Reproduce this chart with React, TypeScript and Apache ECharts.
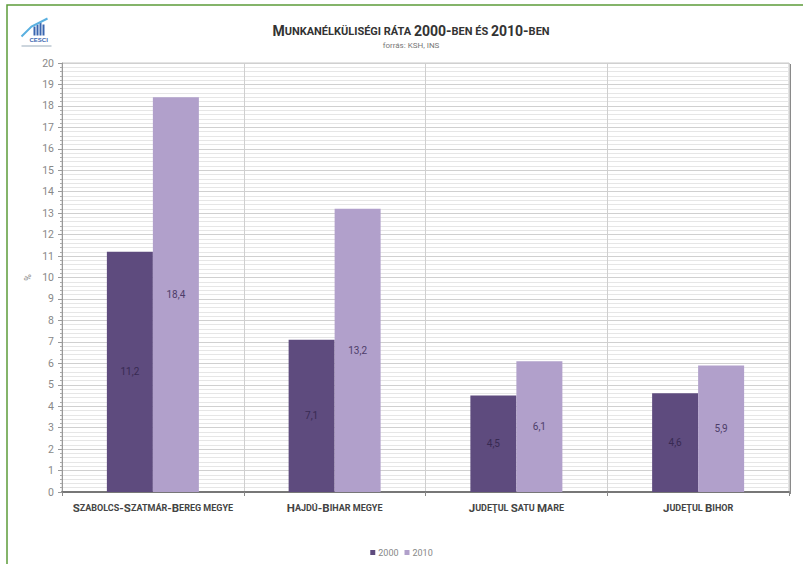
import React, { useEffect, useRef } from "react";
import * as echarts from "echarts";

const categories = [
  "Szabolcs-Szatmár-Bereg megye",
  "Hajdú-Bihar megye",
  "Judeţul Satu Mare",
  "Judeţul Bihor",
];
const values2000 = [11.2, 7.1, 4.5, 4.6];
const values2010 = [18.4, 13.2, 6.1, 5.9];
const seriesNames = ["2000", "2010"];
const titleText = "Munkanélküliségi ráta 2000-ben és 2010-ben";
const subtitleText = "forrás: KSH, INS";

function smallCaps(s: string, big: string, small: string): string {
  let out = "";
  let run = "";
  let runType = "";
  const flush = () => {
    if (run) out += `{${runType}|${run}}`;
    run = "";
  };
  for (const ch of s) {
    const isUpper = ch !== ch.toLowerCase() && ch === ch.toUpperCase();
    const isLower = ch !== ch.toUpperCase() && ch === ch.toLowerCase();
    const t = isUpper ? big : isLower ? small : ch === " " ? small : big;
    if (t !== runType) {
      flush();
      runType = t;
    }
    run += ch.toUpperCase();
  }
  flush();
  return out;
}

export default function App() {
  const ref = useRef<HTMLDivElement>(null);
  useEffect(() => {
    if (!ref.current) return;
    const chart = echarts.init(ref.current, null, { renderer: "svg" });
    const font = "Roboto, 'DejaVu Sans', sans-serif";
    const labelFmt = (p: any) => String(p.value).replace(".", ",");
    chart.setOption({
      animation: false,
      backgroundColor: "#ffffff",
      textStyle: { fontFamily: font },
      title: [
        {
          text: smallCaps(titleText, "tb", "ts"),
          left: 406,
          top: 19,
          textAlign: "center",
          textStyle: {
            rich: {
              tb: { fontSize: 14, fontWeight: "bold", color: "#333", fontFamily: font },
              ts: { fontSize: 11, fontWeight: "bold", color: "#333", fontFamily: font },
            },
          },
        },
        {
          text: subtitleText,
          left: 406,
          top: 36,
          textAlign: "center",
          textStyle: { fontSize: 8, color: "#777", fontWeight: "normal", fontFamily: font },
        },
      ],
      legend: {
        bottom: 2,
        left: "center",
        itemWidth: 5,
        itemHeight: 5,
        itemGap: 6,
        icon: "rect",
        textStyle: { fontSize: 9, color: "#888", padding: [0, 0, 0, -2] },
        data: seriesNames,
      },
      grid: {
        left: 62,
        right: 14,
        top: 63,
        bottom: 72,
        show: true,
        borderColor: "#c8c8c8",
        borderWidth: 1,
      },
      xAxis: {
        type: "category",
        data: categories,
        axisLine: { lineStyle: { color: "#777", width: 2 } },
        axisTick: { show: true, interval: 0, length: 4, lineStyle: { color: "#888" } },
        splitLine: { show: true, interval: 0, lineStyle: { color: "#cfcfcf" } },
        axisLabel: {
          interval: 0,
          margin: 10,
          formatter: (v: string) => smallCaps(v, "xb", "xs"),
          rich: {
            xb: { fontSize: 11.5, fontWeight: "bold", color: "#444", fontFamily: font },
            xs: { fontSize: 9, fontWeight: "bold", color: "#444", fontFamily: font },
          },
        },
      },
      yAxis: {
        type: "value",
        min: 0,
        max: 20,
        interval: 1,
        name: "%",
        nameLocation: "middle",
        nameGap: 30,
        nameMoveOverlap: false,
        nameRotate: 90,
        nameTextStyle: { fontSize: 9, color: "#888" },
        axisLine: { show: true, lineStyle: { color: "#999" } },
        axisTick: { show: true, inside: false, length: 4, lineStyle: { color: "#999" } },
        minorTick: { show: true, splitNumber: 5, length: 2, lineStyle: { color: "#aaa" } },
        splitLine: { show: true, lineStyle: { color: "#d0d0d0" } },
        minorSplitLine: { show: true, lineStyle: { color: "#e6e6e6" } },
        axisLabel: { fontSize: 10.5, color: "#888", margin: 8 },
      },
      series: [
        {
          name: seriesNames[0],
          type: "bar",
          data: values2000,
          barWidth: 46,
          barGap: "0%",
          itemStyle: { color: "#5e4b7e" },
          label: {
            show: true,
            position: "inside",
            formatter: labelFmt,
            color: "#382a52",
            fontSize: 10,
          },
        },
        {
          name: seriesNames[1],
          type: "bar",
          data: values2010,
          barWidth: 46,
          barGap: "0%",
          itemStyle: { color: "#b1a0cb" },
          label: {
            show: true,
            position: "inside",
            formatter: labelFmt,
            color: "#4d3d69",
            fontSize: 10,
          },
        },
      ],
      graphic: [
        {
          type: "rect",
          shape: { x: 7, y: 5, width: 820, height: 600 },
          style: { fill: "none", stroke: "#5c9c3a", lineWidth: 1.5 },
          silent: true,
        },
        {
          type: "line",
          shape: { x1: 790, y1: 64, x2: 790, y2: 494 },
          style: { stroke: "#8a8a8a", lineWidth: 2 },
          silent: true,
        },
        {
          type: "group",
          left: 19,
          top: 16,
          children: [
            { type: "rect", shape: { x: 12, y: 8, width: 2, height: 9 }, style: { fill: "#3a66b0" } },
            { type: "rect", shape: { x: 15, y: 6, width: 2, height: 11 }, style: { fill: "#3a66b0" } },
            { type: "rect", shape: { x: 18, y: 4, width: 2, height: 13 }, style: { fill: "#3a66b0" } },
            { type: "rect", shape: { x: 21, y: 6, width: 2, height: 11 }, style: { fill: "#3a66b0" } },
            {
              type: "polyline",
              shape: { points: [[0, 18], [10, 8], [26, 0]] },
              style: { stroke: "#5ab0e0", lineWidth: 2, fill: "none" },
            },
            {
              type: "text",
              x: 8,
              y: 18,
              style: { text: "CESCI", fontSize: 6, fill: "#3a66b0", fontWeight: "bold" },
            },
            { type: "rect", shape: { x: 0, y: 27, width: 30, height: 1 }, style: { fill: "#9ab" } },
          ],
        },
      ],
    });
    return () => chart.dispose();
  }, []);
  return (
    <div
      ref={ref}
      style={{ position: "fixed", left: 0, top: 0, width: 803, height: 564 }}
    />
  );
}
